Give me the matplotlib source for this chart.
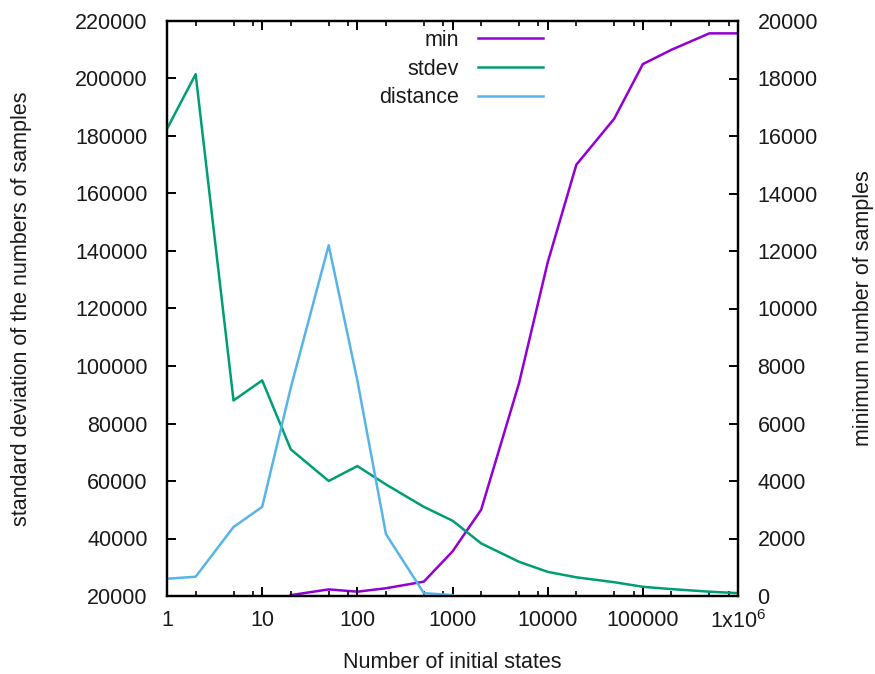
import matplotlib
matplotlib.use("Agg")
import matplotlib.pyplot as plt
from matplotlib.ticker import FixedLocator, FixedFormatter, NullFormatter
from matplotlib.lines import Line2D

plt.rcParams['font.family'] = ['Liberation Sans', 'DejaVu Sans']
plt.rcParams['mathtext.default'] = 'regular'

# Data
x_states = [1, 2, 5, 10, 20, 50, 100, 200, 500, 1000, 2000, 5000, 10000,
            20000, 50000, 100000, 200000, 500000, 1000000]
stdev = [182500, 201500, 88000, 95000, 71000, 60000, 65200, 58800, 51000,
         46200, 38300, 31900, 28400, 26500, 24800, 23200, 22400, 21500, 21000]
x_distance = [1, 2, 5, 10, 20, 50, 100, 200, 500, 1000]
distance = [26000, 26700, 44000, 51000, 92500, 142000, 95000, 41500, 21000, 20300]
x_min = [20, 50, 100, 200, 500, 1000, 2000, 5000, 10000, 20000, 50000,
         100000, 200000, 500000, 1000000]
min_samples = [30, 230, 150, 270, 500, 1550, 3000, 7400, 11600, 15000,
               16600, 18500, 19000, 19570, 19570]

left_ticks = [20000, 40000, 60000, 80000, 100000, 120000, 140000, 160000,
              180000, 200000, 220000]
right_ticks = [0, 2000, 4000, 6000, 8000, 10000, 12000, 14000, 16000, 18000, 20000]
x_ticks = [1, 10, 100, 1000, 10000, 100000, 1000000]
x_ticklabels = ['1', '10', '100', '1000', '10000', '100000', '1x10$^{6}$']

c_min = '#9400D3'
c_stdev = '#009E73'
c_dist = '#56B4E9'
fs = 15.5
lw = 1.8
txt = '#1a1a1a'

fig = plt.figure(figsize=(8.75, 6.74), dpi=100)
ax = fig.add_axes([167/875, 1-596/674, (738-167)/875, (596-21)/674])
ax2 = ax.twinx()

ax2.plot(x_min, min_samples, color=c_min, lw=lw)
ax.plot(x_states, stdev, color=c_stdev, lw=lw)
ax.plot(x_distance, distance, color=c_dist, lw=lw)

ax.set_xscale('log')
ax.set_xlim(1, 1e6)
ax.set_ylim(20000, 220000)
ax2.set_ylim(0, 20000)

ax.xaxis.set_major_locator(FixedLocator(x_ticks))
ax.xaxis.set_major_formatter(FixedFormatter(x_ticklabels))
minors = []
for d in [1, 10, 100, 1000, 10000, 100000]:
    for m in [2, 5, 8]:
        minors.append(d * m)
ax.xaxis.set_minor_locator(FixedLocator(minors))
ax.xaxis.set_minor_formatter(NullFormatter())
ax.yaxis.set_major_locator(FixedLocator(left_ticks))
ax.yaxis.set_major_formatter(FixedFormatter([str(v) for v in left_ticks]))
ax.yaxis.set_minor_locator(FixedLocator([]))
ax2.yaxis.set_major_locator(FixedLocator(right_ticks))
ax2.yaxis.set_major_formatter(FixedFormatter([str(v) for v in right_ticks]))
ax2.yaxis.set_minor_locator(FixedLocator([]))

ax.tick_params(axis='x', which='major', direction='in', length=6.5, width=1.4,
               top=True, bottom=True, labelsize=fs, pad=10, colors='black', labelcolor=txt)
ax.tick_params(axis='x', which='minor', direction='in', length=3.5, width=1.2,
               top=True, bottom=True)
ax.tick_params(axis='y', which='major', direction='in', length=6.5, width=1.4,
               left=True, right=False, labelsize=fs, pad=14, labelcolor=txt)
ax2.tick_params(axis='y', which='major', direction='in', length=6.5, width=1.4,
                right=True, left=False, labelsize=fs, pad=14, labelcolor=txt)

for a in (ax, ax2):
    for s in a.spines.values():
        s.set_linewidth(1.6)
        s.set_zorder(10)

ax.set_zorder(ax2.get_zorder() + 1)
ax.patch.set_visible(False)

fig.text(452/875, 1-663/674, 'Number of initial states', ha='center', va='center',
         fontsize=fs, color=txt)
fig.text(22/875, 1-(21+596)/2/674, 'standard deviation of the numbers of samples',
         rotation=90, ha='center', va='center', fontsize=fs, color=txt)
fig.text(864/875, 1-(21+596)/2/674, 'minimum number of samples',
         rotation=90, ha='center', va='center', fontsize=fs, color=txt)

handles = [Line2D([], [], color=c_min, lw=lw),
           Line2D([], [], color=c_stdev, lw=lw),
           Line2D([], [], color=c_dist, lw=lw)]
labels = ['min', 'stdev', 'distance']
leg = ax.legend(handles, labels, loc='upper right', frameon=False, markerfirst=False,
                bbox_to_anchor=(543/875, 1-30/674), bbox_transform=fig.transFigure,
                borderaxespad=0, borderpad=0, handlelength=3.0, handletextpad=0.9,
                labelspacing=0.35, fontsize=fs)
for t in leg.get_texts():
    t.set_color(txt)

fig.savefig('out.png', dpi=100)
